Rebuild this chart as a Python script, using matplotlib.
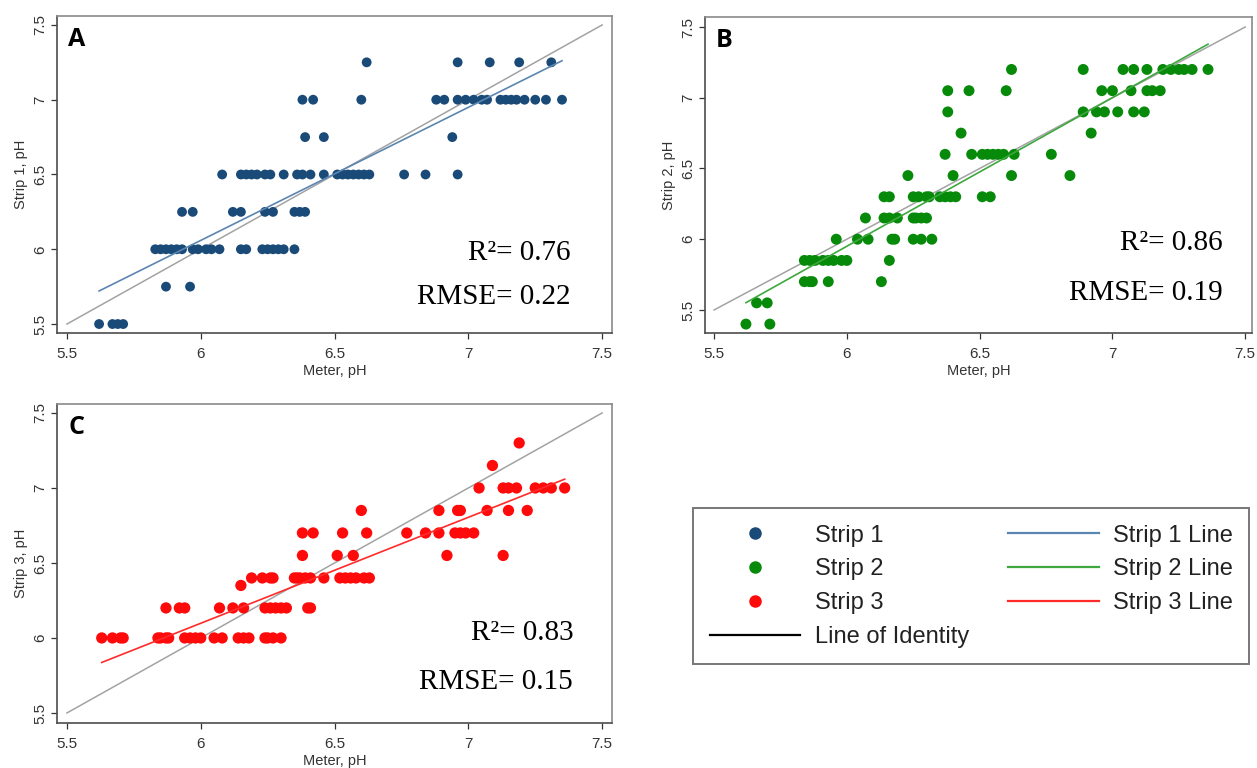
import matplotlib
matplotlib.use("Agg")
import matplotlib.pyplot as plt
from matplotlib.lines import Line2D
import numpy as np

# colours
navy = '#1a4a78'
navy_line = '#5b86b2'
green = '#078a0a'
green_line = '#3ea83e'
red = '#ff0a0a'
red_line = '#ff2a2a'
ident = '#a3a3a3'

# Strip 1: strip readings and meter readings per level
levels_1 = [7.25, 7.0, 6.75, 6.5, 6.25, 6.0, 5.75, 5.5]
meter_1 = [
    [6.62, 6.96, 7.08, 7.19, 7.31],
    [6.38, 6.42, 6.60, 6.88, 6.91, 6.96, 6.99, 7.02, 7.05, 7.07, 7.12, 7.14, 7.16,
     7.18, 7.21, 7.25, 7.29, 7.35],
    [6.39, 6.46, 6.94],
    [6.08, 6.15, 6.17, 6.19, 6.21, 6.24, 6.26, 6.31, 6.36, 6.38, 6.41, 6.46, 6.51,
     6.53, 6.55, 6.57, 6.59, 6.61, 6.63, 6.76, 6.84, 6.96],
    [5.93, 5.97, 6.12, 6.15, 6.24, 6.27, 6.35, 6.37, 6.39],
    [5.83, 5.85, 5.87, 5.89, 5.91, 5.93, 5.97, 5.99, 6.02, 6.04, 6.07, 6.15, 6.17,
     6.23, 6.25, 6.27, 6.29, 6.31, 6.35],
    [5.87, 5.96],
    [5.62, 5.67, 5.69, 5.71],
]

# Strip 2
levels_2 = [7.2, 7.05, 6.9, 6.75, 6.6, 6.45, 6.3, 6.15, 6.0, 5.85, 5.7, 5.55, 5.4]
meter_2 = [
    [6.62, 6.89, 7.04, 7.08, 7.13, 7.19, 7.22, 7.25, 7.27, 7.30, 7.36],
    [6.38, 6.46, 6.60, 6.96, 7.00, 7.07, 7.13, 7.15, 7.18],
    [6.38, 6.89, 6.94, 6.97, 7.02, 7.08, 7.12],
    [6.43, 6.92],
    [6.37, 6.47, 6.51, 6.53, 6.55, 6.57, 6.59, 6.63, 6.77],
    [6.23, 6.40, 6.62, 6.84],
    [6.14, 6.16, 6.25, 6.27, 6.30, 6.31, 6.35, 6.37, 6.39, 6.41, 6.51, 6.54],
    [6.07, 6.14, 6.16, 6.19, 6.25, 6.26, 6.28, 6.30],
    [5.96, 6.04, 6.08, 6.17, 6.18, 6.25, 6.28, 6.32],
    [5.84, 5.86, 5.88, 5.91, 5.93, 5.95, 5.98, 6.00, 6.16],
    [5.84, 5.86, 5.87, 5.93, 6.13],
    [5.66, 5.70],
    [5.62, 5.71],
]

# Strip 3
levels_3 = [7.3, 7.15, 7.0, 6.85, 6.7, 6.55, 6.4, 6.35, 6.2, 6.0]
meter_3 = [
    [7.19],
    [7.09],
    [7.04, 7.13, 7.15, 7.18, 7.25, 7.28, 7.31, 7.36],
    [6.60, 6.89, 6.96, 6.97, 7.07, 7.15, 7.22],
    [6.38, 6.42, 6.53, 6.62, 6.77, 6.84, 6.89, 6.95, 6.97, 6.99, 7.02],
    [6.38, 6.51, 6.57, 6.92, 7.13],
    [6.19, 6.23, 6.26, 6.27, 6.35, 6.36, 6.37, 6.39, 6.41, 6.46, 6.52, 6.54, 6.56,
     6.58, 6.61, 6.63],
    [6.15],
    [5.87, 5.92, 5.94, 6.07, 6.12, 6.16, 6.24, 6.26, 6.28, 6.30, 6.32, 6.40, 6.41],
    [5.63, 5.67, 5.70, 5.71, 5.84, 5.85, 5.87, 5.88, 5.94, 5.96, 5.98, 6.00, 6.05,
     6.08, 6.14, 6.16, 6.18, 6.24, 6.25, 6.27, 6.30],
]

r2_text = ['R\u00b2= 0.76', 'R\u00b2= 0.86', 'R\u00b2= 0.83']
rmse_text = ['RMSE= 0.22', 'RMSE= 0.19', 'RMSE= 0.15']
ident_range = [5.5, 7.5]


def flatten(levels, meter):
    xs, ys = [], []
    for lv, row in zip(levels, meter):
        xs += row
        ys += [lv] * len(row)
    return np.array(xs), np.array(ys)


plt.rcParams['font.family'] = ['Liberation Sans', 'DejaVu Sans']

fig = plt.figure(figsize=(12.57, 7.68), dpi=100)
axA = fig.add_axes([0.0454, 0.5664, 0.4415, 0.4128])
axB = fig.add_axes([0.5609, 0.5664, 0.4352, 0.4115])
axC = fig.add_axes([0.0454, 0.0586, 0.4415, 0.4154])

panels = [
    (axA, 'A', levels_1, meter_1, navy, navy_line, 'Strip 1, pH', (5.44, 7.56), (5.463, 7.537), 50,
     (0.926, 0.252, 0.112)),
    (axB, 'B', levels_2, meter_2, green, green_line, 'Strip 2, pH', (5.337, 7.571), (5.466, 7.526), 62,
     (0.947, 0.285, 0.128)),
    (axC, 'C', levels_3, meter_3, red, red_line, 'Strip 3, pH', (5.433, 7.56), (5.463, 7.537), 66,
     (0.93, 0.282, 0.13)),
]

for i, (ax, letter, lv, mt, col, lcol, ylab, ylim, xlim, ms, tpos) in enumerate(panels):
    x, y = flatten(lv, mt)
    ax.plot(ident_range, ident_range, color=ident, lw=1.1, zorder=2)
    ax.scatter(x, y, s=ms, color=col, edgecolors='none', zorder=3)
    k, b = np.polyfit(x, y, 1)
    xf = np.array([x.min(), x.max()])
    ax.plot(xf, k * xf + b, color=lcol, lw=1.2, zorder=4)

    ax.set_xlim(*xlim)
    ax.set_ylim(*ylim)
    ax.set_xticks([5.5, 6, 6.5, 7, 7.5])
    ax.set_xticklabels(['5.5', '6', '6.5', '7', '7.5'])
    ax.set_yticks([5.5, 6, 6.5, 7, 7.5])
    ax.set_yticklabels(['5.5', '6', '6.5', '7', '7.5'], rotation=90, va='center')
    ax.tick_params(labelsize=11, colors='#333333', length=4, width=0.9)
    ax.tick_params(axis='x', pad=6)
    ax.tick_params(axis='y', pad=3)
    for side, sp in ax.spines.items():
        sp.set_linewidth(1.2)
        sp.set_color('#4d4d4d' if side in ('left', 'bottom') else '#8a8a8a')
    ax.set_xlabel('Meter, pH', fontsize=10.5, color='#333333', labelpad=2)
    ax.set_ylabel(ylab, fontsize=10.5, color='#333333', labelpad=4)

    ax.text(0.02, 0.927, letter, transform=ax.transAxes, fontsize=18, fontweight='bold',
            family=['Open Sans', 'DejaVu Sans'], va='center', ha='left')
    ax.text(tpos[0], tpos[1], r2_text[i], transform=ax.transAxes, fontsize=21,
            family=['Liberation Serif', 'DejaVu Serif'], ha='right', va='center')
    ax.text(tpos[0], tpos[2], rmse_text[i], transform=ax.transAxes, fontsize=21,
            family=['Liberation Serif', 'DejaVu Serif'], ha='right', va='center')

handles = [
    Line2D([], [], ls='none', marker='o', color=navy, markersize=8),
    Line2D([], [], ls='none', marker='o', color=green, markersize=8),
    Line2D([], [], ls='none', marker='o', color=red, markersize=8),
    Line2D([], [], color='black', lw=1.6),
    Line2D([], [], color=navy_line, lw=1.6),
    Line2D([], [], color=green_line, lw=1.6),
    Line2D([], [], color=red_line, lw=1.6),
]
labels = ['Strip 1', 'Strip 2', 'Strip 3', 'Line of Identity',
          'Strip 1 Line', 'Strip 2 Line', 'Strip 3 Line']
leg = fig.legend(handles, labels, ncol=2, loc='upper left',
                 bbox_to_anchor=(693 / 1257, 1 - 508 / 768), borderaxespad=0,
                 fontsize=17, frameon=True, fancybox=False, handlelength=3.85,
                 handletextpad=0.6, columnspacing=1.65, labelspacing=0.5,
                 borderpad=0.7)
leg.get_frame().set_edgecolor('#555555')
leg.get_frame().set_linewidth(1.4)
for t in leg.get_texts():
    t.set_color('#222222')

fig.savefig('out.png', dpi=100)
